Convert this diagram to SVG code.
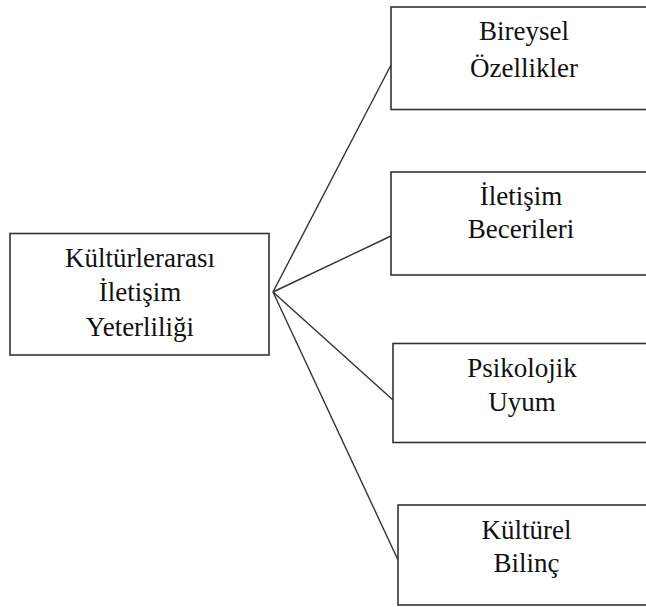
<svg xmlns="http://www.w3.org/2000/svg" width="646" height="607" viewBox="0 0 646 607">
<style>
.box{fill:#fff;stroke:#333;stroke-width:1.6}
.lbl{font-family:"Liberation Serif","Times New Roman",serif;font-size:27px;fill:#111;text-anchor:middle}
.con{stroke:#333;stroke-width:1.4;fill:none}
</style>
<rect width="646" height="607" fill="#fff"/>
<g id="connectors">
<line class="con" x1="273" y1="292" x2="391" y2="65"/>
<line class="con" x1="273" y1="292" x2="391" y2="236"/>
<line class="con" x1="273" y1="292" x2="393" y2="400"/>
<line class="con" x1="273" y1="292" x2="398" y2="560"/>
</g>
<g id="n-root">
<rect class="box" x="10" y="233.5" width="259" height="121.5"/>
<text class="lbl" x="140" y="266.5">Kültürlerarası</text>
<text class="lbl" x="140" y="301">İletişim</text>
<text class="lbl" x="140" y="335.5">Yeterliliği</text>
</g>
<g id="n-bireysel">
<rect class="box" x="391" y="7" width="270" height="102.5"/>
<text class="lbl" x="524" y="40">Bireysel</text>
<text class="lbl" x="524" y="76.5">Özellikler</text>
</g>
<g id="n-iletisim">
<rect class="box" x="391" y="172" width="270" height="103"/>
<text class="lbl" x="521" y="205">İletişim</text>
<text class="lbl" x="521" y="238">Becerileri</text>
</g>
<g id="n-psikolojik">
<rect class="box" x="393" y="343.5" width="270" height="99"/>
<text class="lbl" x="522" y="376.5">Psikolojik</text>
<text class="lbl" x="522" y="411">Uyum</text>
</g>
<g id="n-kulturel">
<rect class="box" x="398" y="505" width="270" height="100"/>
<text class="lbl" x="526.5" y="539">Kültürel</text>
<text class="lbl" x="526.5" y="572">Bilinç</text>
</g>
</svg>
